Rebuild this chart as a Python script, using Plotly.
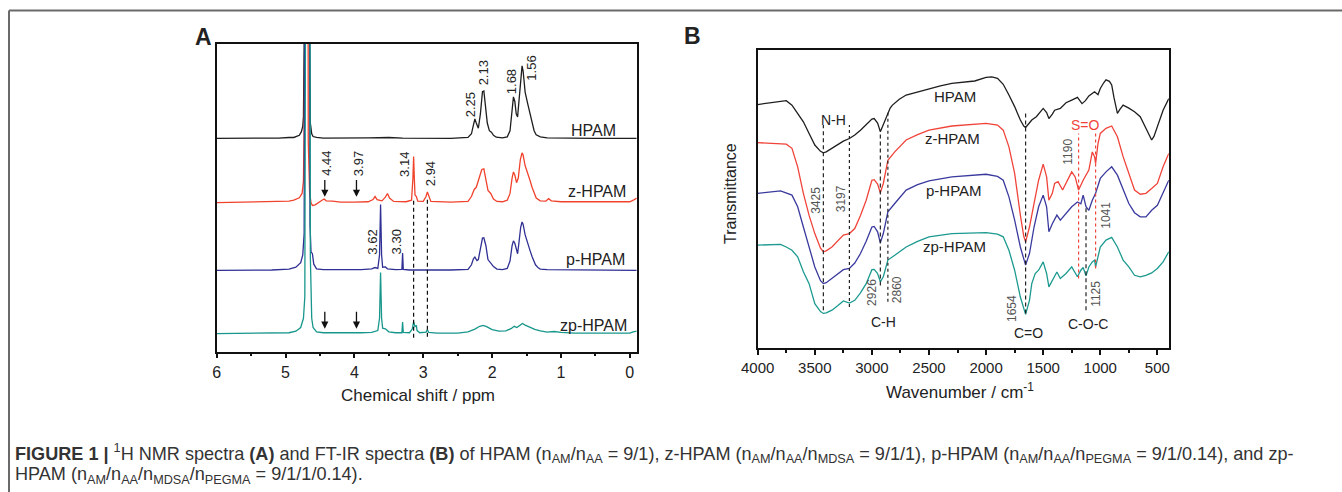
import plotly.graph_objects as go

# ---------------- panel A: 1H NMR (shift ppm, intensity above own baseline) ----------------
nmr_names = ["HPAM", "z-HPAM", "p-HPAM", "zp-HPAM"]
nmr_colors = ["#1e1e1e", "#f0432c", "#2f2f94", "#17968b"]
nmr_offsets = [69.3, 48.4, 26.4, 5.8]

hpam_nmr = [
    (6.0, 0), (5.5, 0), (5.1, 0.1), (4.95, 0.3), (4.88, 0.3), (4.80, 1.0), (4.77, 2.2), (4.75, 4),
    (4.74, 7), (4.73, 30), (4.72, 200), (4.66, 200), (4.65, 30), (4.64, 5), (4.62, 1.5), (4.60, 0.6),
    (4.55, 0.3), (4.45, 0.1), (3.8, 0.2), (3.6, 0.4), (3.5, 0.3), (3.3, 0.1), (2.6, 0), (2.35, 0.3),
    (2.30, 1.5), (2.27, 4.5), (2.25, 6.3), (2.23, 5), (2.20, 3.3), (2.17, 8), (2.14, 15.2), (2.12, 15.4),
    (2.10, 12), (2.07, 5), (2.04, 2.5), (2.01, 2), (1.98, 1), (1.94, 0.4), (1.85, 0.2), (1.78, 0.5),
    (1.74, 2.5), (1.71, 9), (1.69, 13.5), (1.67, 12), (1.65, 8), (1.63, 7), (1.61, 12), (1.585, 21),
    (1.565, 23.6), (1.55, 22), (1.52, 15), (1.48, 11), (1.45, 8), (1.42, 5), (1.39, 2.5), (1.36, 1.2),
    (1.30, 0.5), (1.20, 0.2), (1.0, 0.1), (0.5, 0), (-0.1, 0),
]
zhpam_nmr = [
    (6.0, 0), (5.2, 0.2), (4.95, 0.5), (4.88, 0.8), (4.80, 1.6), (4.76, 3), (4.74, 7), (4.73, 25),
    (4.715, 200), (4.68, 200), (4.67, 20), (4.65, 3), (4.63, 0), (4.61, -0.9), (4.57, -0.7), (4.52, 0.2),
    (4.47, 0.8), (4.44, 1.2), (4.41, 0.6), (4.32, 0.5), (4.2, 0.2), (4.0, 0.2), (3.8, 0.3), (3.73, 1),
    (3.70, 2), (3.67, 1), (3.60, 0.6), (3.55, 1.8), (3.52, 3), (3.49, 1.5), (3.43, 0.4), (3.25, 0.3),
    (3.17, 0.8), (3.15, 8), (3.14, 15), (3.13, 8), (3.12, 2.5), (3.10, 2), (3.08, 0.5), (3.0, 0.4),
    (2.96, 2), (2.94, 3.5), (2.92, 2), (2.89, 0.4), (2.6, 0.2), (2.35, 0.4), (2.30, 2), (2.26, 4.3),
    (2.23, 5), (2.19, 8), (2.15, 10.8), (2.12, 11), (2.09, 8), (2.06, 4), (2.02, 3), (1.98, 1.2),
    (1.93, 0.4), (1.85, 0.3), (1.78, 0.8), (1.74, 3), (1.71, 8), (1.69, 10), (1.67, 9), (1.645, 6.5),
    (1.62, 8), (1.59, 14), (1.565, 16.2), (1.55, 15.5), (1.52, 12), (1.48, 9.5), (1.45, 7.3), (1.42, 5),
    (1.39, 3), (1.36, 1.5), (1.30, 0.6), (1.22, 0.5), (1.18, 1.3), (1.14, 0.6), (1.0, 0.3), (0.5, 0.2),
    (0.0, 0.3), (-0.05, 0.8), (-0.1, 1.5),
]
phpam_nmr = [
    (6.0, 0), (5.2, 0.1), (4.95, 0.4), (4.85, 1.0), (4.78, 2.5), (4.75, 5), (4.73, 12), (4.71, 200),
    (4.66, 200), (4.645, 15), (4.63, 6), (4.61, 5.4), (4.59, 2), (4.55, 0.5), (4.45, 0.2), (4.2, 0.2),
    (4.15, 0.3), (3.9, 0.2), (3.75, 0.5), (3.70, 0.9), (3.66, 0.6), (3.635, 5), (3.62, 21.4),
    (3.605, 5), (3.59, 1), (3.55, 1.1), (3.52, 0.5), (3.4, 0.2), (3.31, 0.3), (3.30, 5.6), (3.29, 0.3),
    (3.2, 0.1), (2.6, 0.1), (2.35, 0.3), (2.30, 1.8), (2.27, 3.8), (2.25, 4.3), (2.22, 3.2), (2.20, 3.5),
    (2.16, 9), (2.14, 10.5), (2.12, 10.6), (2.09, 8), (2.06, 3.5), (2.02, 2.2), (1.98, 1.2), (1.93, 0.4),
    (1.85, 0.2), (1.78, 0.6), (1.74, 3), (1.71, 8), (1.69, 9.6), (1.67, 8.8), (1.645, 6), (1.63, 5.4),
    (1.61, 9), (1.585, 14), (1.565, 15.7), (1.55, 15), (1.52, 11.5), (1.48, 9), (1.45, 6.5), (1.42, 4.5),
    (1.40, 3.3), (1.37, 1.8), (1.33, 0.8), (1.30, 0.4), (1.20, 0.2), (0.5, 0.1), (-0.1, 0),
]
zphpam_nmr = [
    (6.0, 0), (5.2, 0.1), (4.95, 0.3), (4.85, 0.8), (4.78, 2), (4.74, 5), (4.72, 12), (4.70, 200),
    (4.65, 200), (4.64, 25), (4.62, 5), (4.60, 2), (4.55, 0.6), (4.45, 0.3), (4.2, 0.2), (3.9, 0.3),
    (3.75, 0.4), (3.70, 0.6), (3.66, 1), (3.635, 5), (3.62, 19.9), (3.605, 5), (3.59, 1.8), (3.55, 1.6),
    (3.50, 0.6), (3.4, 0.3), (3.31, 0.3), (3.30, 3.8), (3.29, 0.4), (3.2, 0.3), (3.16, 1.5), (3.14, 3.8),
    (3.12, 2.3), (3.10, 2.7), (3.09, 1), (3.05, 0.3), (2.96, 0.5), (2.94, 1.3), (2.92, 0.4), (2.8, 0.2),
    (2.5, 0.2), (2.35, 0.6), (2.25, 1.5), (2.18, 2.4), (2.13, 2.7), (2.08, 2.3), (2.0, 1.3), (1.9, 0.8),
    (1.8, 0.9), (1.72, 1.7), (1.68, 2.4), (1.64, 2.0), (1.60, 2.8), (1.56, 3.3), (1.52, 2.8), (1.45, 2.0),
    (1.38, 1.4), (1.30, 0.9), (1.20, 0.5), (1.10, 0.7), (1.0, 0.4), (0.8, 0.2), (0.0, 0.2), (-0.05, 0.6),
    (-0.1, 0.8),
]
nmr_spectra = [hpam_nmr, zhpam_nmr, phpam_nmr, zphpam_nmr]

# peak labels: (text, shift, level)
nmr_peak_labels = [
    ("2.25", 2.32, 80.1), ("2.13", 2.13, 90.5), ("1.68", 1.72, 87.7), ("1.56", 1.43, 92.1),
    ("4.44", 4.41, 61.1), ("3.97", 3.94, 61.1), ("3.14", 3.27, 60.9), ("2.94", 2.90, 57.7),
    ("3.62", 3.75, 35.6), ("3.30", 3.39, 35.6),
]
nmr_name_pos = [(0.17, 72.0), (0.03, 51.9), (0.035, 29.9), (0.015, 8.5)]
nmr_arrow_shifts = [4.43, 3.97]
nmr_arrow_spans = [(56.3, 50.3), (13.4, 7.4)]
nmr_guide_lines = [(3.14, 49.5, 4.5), (2.94, 50.0, 4.8)]

# ---------------- panel B: FT-IR (wavenumber, stacked transmittance a.u.) ----------------
ir_names = ["HPAM", "z-HPAM", "p-HPAM", "zp-HPAM"]
ir_colors = ["#1e1e1e", "#f0443a", "#3a3a9e", "#1c9a90"]

hpam_ir = [
    (4000, 81.7), (3900, 82.2), (3800, 82.6), (3750, 83), (3700, 81.5), (3650, 78.7), (3600, 75.9),
    (3550, 72), (3500, 68.1), (3450, 66), (3425, 65.5), (3400, 65.8), (3350, 67), (3300, 68.3),
    (3250, 69.4), (3197, 70.3), (3150, 71.5), (3100, 73.1), (3050, 75), (3000, 76.8), (2980, 77),
    (2950, 75.5), (2926, 72.6), (2910, 74), (2900, 75.4), (2880, 77), (2860, 78.7), (2840, 80.5),
    (2820, 81.5), (2760, 83.5), (2700, 84.9), (2600, 86), (2500, 87.1), (2400, 88), (2300, 88.8),
    (2200, 89.2), (2100, 89.6), (2000, 90.8), (1950, 91), (1900, 90.5), (1850, 88.5), (1800, 84.9),
    (1750, 81), (1700, 76.5), (1670, 74.5), (1654, 74), (1630, 75), (1600, 76.5), (1560, 77.6),
    (1530, 79), (1500, 80.4), (1470, 79), (1450, 77), (1420, 78.5), (1400, 79.8), (1350, 80.4),
    (1300, 82.3), (1250, 83.2), (1200, 84.1), (1160, 82), (1130, 83), (1100, 84.6), (1050, 86),
    (1020, 85), (1000, 87.1), (970, 89), (950, 90), (920, 89.5), (900, 88.3), (880, 84), (860, 80.5),
    (850, 78.7), (830, 80), (800, 81.5), (750, 80.5), (700, 79.3), (650, 77.6), (600, 73.7), (570, 71),
    (550, 69.8), (530, 71), (500, 74.2), (450, 79.8), (400, 83.7),
]
zhpam_ir = [
    (4000, 68.9), (3850, 68.6), (3750, 68.4), (3700, 67), (3650, 60.8), (3600, 51.9), (3550, 44.5),
    (3500, 38.4), (3450, 33.5), (3425, 32.3), (3400, 32.6), (3350, 33.9), (3300, 35.8), (3250, 37.9),
    (3197, 38.4), (3150, 40.1), (3100, 44.5), (3050, 49.6), (3000, 56.3), (2980, 56.5), (2950, 55),
    (2926, 52.1), (2900, 55.2), (2880, 59.5), (2860, 63), (2800, 65.8), (2700, 69.8), (2600, 71.6),
    (2500, 73.1), (2300, 74.5), (2100, 75.1), (2000, 75.4), (1900, 74.8), (1850, 73.1), (1800, 67.5),
    (1750, 58.6), (1700, 44.6), (1670, 37.5), (1654, 35.6), (1620, 40.6), (1580, 48.5), (1540, 56.3),
    (1500, 61.7), (1470, 57.4), (1450, 49.6), (1420, 51.9), (1400, 55.2), (1370, 55.8), (1330, 53),
    (1300, 55.2), (1250, 59.1), (1220, 57.4), (1190, 53), (1150, 56.3), (1100, 59.7), (1070, 65.8),
    (1050, 64.2), (1041, 61.9), (1020, 68.6), (1000, 72), (950, 73.7), (900, 74.5), (850, 70.9),
    (800, 64.2), (750, 58.6), (700, 53), (650, 51.6), (600, 51.9), (550, 53.5), (500, 55.2),
    (450, 60.8), (400, 65.3),
]
phpam_ir = [
    (4000, 51.9), (3900, 52.3), (3800, 52.7), (3700, 51.3), (3650, 47.4), (3600, 40.6), (3550, 33.5),
    (3500, 27.2), (3450, 22.6), (3425, 21.6), (3400, 21.9), (3350, 23.3), (3300, 24.8), (3250, 26.3),
    (3197, 26.7), (3150, 28.5), (3100, 31.7), (3050, 35.8), (3000, 40.6), (2980, 40.8), (2950, 39),
    (2926, 35.3), (2900, 38.4), (2880, 42.5), (2860, 45.7), (2800, 48.5), (2700, 53), (2600, 54.8),
    (2500, 56.1), (2300, 57.4), (2100, 58), (2000, 58.3), (1900, 57.6), (1850, 56.3), (1800, 50.7),
    (1750, 42.9), (1700, 33.9), (1670, 29.5), (1654, 27.8), (1620, 31.7), (1580, 40.6), (1540, 47.4),
    (1500, 51.3), (1470, 47.4), (1450, 39), (1420, 41.7), (1380, 44.6), (1350, 42.9), (1300, 45.1),
    (1250, 47.4), (1200, 49), (1170, 48.4), (1150, 51.3), (1125, 47.4), (1100, 46.2), (1070, 49.6),
    (1041, 51.9), (1000, 56.9), (950, 59.1), (900, 60.8), (850, 58), (800, 53), (750, 48.5),
    (700, 45.4), (650, 44), (600, 44), (550, 46.2), (500, 47.9), (450, 51.9), (400, 56.3),
]
zphpam_ir = [
    (4000, 34.5), (3900, 34.6), (3800, 34.8), (3750, 33.9), (3700, 32.8), (3650, 30.6), (3600, 25.6),
    (3550, 21.6), (3500, 14.9), (3450, 12.2), (3425, 11.6), (3400, 11.8), (3350, 12.7), (3300, 14.2),
    (3250, 15.8), (3197, 15.1), (3150, 16), (3100, 18.5), (3050, 21.6), (3000, 26.3), (2980, 26.4),
    (2950, 25), (2926, 22.2), (2900, 23.9), (2880, 27), (2860, 29.5), (2800, 31.1), (2700, 33.9),
    (2600, 35.8), (2500, 37.3), (2300, 38.4), (2100, 38.7), (2000, 38.7), (1900, 38.2), (1850, 37.3),
    (1800, 32.8), (1750, 26.1), (1700, 17.1), (1670, 12.8), (1654, 11.3), (1620, 16), (1600, 21.6),
    (1570, 25), (1540, 26.1), (1500, 28.9), (1470, 25), (1450, 20.5), (1420, 22.7), (1380, 25.5),
    (1350, 23.3), (1300, 25), (1250, 27.2), (1200, 23.9), (1170, 26.1), (1150, 27), (1125, 24.2),
    (1100, 27.2), (1070, 28.9), (1050, 29.5), (1041, 27.2), (1020, 30.6), (1000, 33.9), (950, 36.2),
    (900, 37.1), (850, 33.9), (800, 29.5), (750, 27.2), (700, 24.4), (650, 23.9), (600, 24.4),
    (550, 25.2), (500, 26.7), (450, 28.9), (400, 32.3),
]
ir_spectra = [hpam_ir, zhpam_ir, phpam_ir, zphpam_ir]

ir_name_pos = [(2268, 84.5), (2294, 70.3), (2280, 53.0), (2280, 34.2)]
# band guide lines: (wavenumber, top, bottom, colour, dash)
ir_guide_lines = [
    (3425, 74.8, 12.7, "#222222", "4px,3px"),
    (3197, 74.8, 13.8, "#222222", "dot"),
    (2926, 73.0, 21.0, "#222222", "4px,3px"),
    (2860, 79.3, 15.5, "#222222", "dot"),
    (1654, 78.7, 11.6, "#222222", "4px,3px"),
    (1190, 72.0, 23.3, "#f0443a", "dot"),
    (1041, 72.0, 26.7, "#f0443a", "dot"),
    (1125, 47.4, 12.7, "#222222", "4px,3px"),
]
ir_band_values = [
    ("3425", 3484, 49.6), ("3197", 3263, 50.2), ("2926", 3005, 18.6), ("2860", 2784, 19.6),
    ("1654", 1779, 13.2), ("1190", 1285, 65.8), ("1041", 953, 44.6), ("1125", 1034, 18.3),
]
ir_band_groups = [
    ("N-H", 3337, 76.5, "#222222"), ("C-H", 2895, 8.7, "#222222"), ("C=O", 1631, 5.2, "#222222"),
    ("C-O-C", 1108, 8.0, "#222222"), ("S=O", 1126, 74.8, "#f0443a"),
]

FONT = "Liberation Sans, Arial, Helvetica, sans-serif"
W, H = 1342, 492

fig = go.Figure()

for name, color, offset, spec in zip(nmr_names, nmr_colors, nmr_offsets, nmr_spectra):
    fig.add_trace(go.Scatter(
        x=[p[0] for p in spec], y=[p[1] + offset for p in spec],
        mode="lines", line=dict(color=color, width=1.3), name=name,
        showlegend=False, xaxis="x", yaxis="y",
    ))

for name, color, spec in zip(ir_names, ir_colors, ir_spectra):
    fig.add_trace(go.Scatter(
        x=[p[0] for p in spec], y=[p[1] for p in spec],
        mode="lines", line=dict(color=color, width=1.3), name=name,
        showlegend=False, xaxis="x2", yaxis="y2",
    ))

shapes = []
for shift, top, bottom in nmr_guide_lines:
    shapes.append(dict(type="line", xref="x", yref="y", x0=shift, x1=shift, y0=bottom, y1=top,
                       line=dict(color="#111111", width=1.2, dash="4px,3px")))
for wn, top, bottom, color, dash in ir_guide_lines:
    shapes.append(dict(type="line", xref="x2", yref="y2", x0=wn, x1=wn, y0=bottom, y1=top,
                       line=dict(color=color, width=1.2, dash=dash)))
# outer figure frame (top and left rules)
shapes.append(dict(type="line", xref="paper", yref="paper", x0=9 / W, x1=1, y0=1 - 10.5 / H,
                   y1=1 - 10.5 / H, line=dict(color="#6a6a6a", width=2)))
shapes.append(dict(type="line", xref="paper", yref="paper", x0=9 / W, x1=9 / W, y0=0,
                   y1=1 - 10.5 / H, line=dict(color="#6a6a6a", width=2)))

ann = []
for text, shift, level in nmr_peak_labels:
    ann.append(dict(x=shift, y=level, xref="x", yref="y", text=text, textangle=-90, showarrow=False,
                    font=dict(size=13, color="#222222")))
for name, (shift, level) in zip(nmr_names, nmr_name_pos):
    ann.append(dict(x=shift, y=level, xref="x", yref="y", text=name, showarrow=False, xanchor="right",
                    font=dict(size=16, color="#222222")))
for top, tip in nmr_arrow_spans:
    for shift in nmr_arrow_shifts:
        ann.append(dict(x=shift, y=tip, ax=shift, ay=top, xref="x", yref="y", axref="x", ayref="y",
                        text="", showarrow=True, arrowhead=2, arrowsize=1.1, arrowwidth=1.3,
                        arrowcolor="#111111", standoff=0))
for name, (wn, level) in zip(ir_names, ir_name_pos):
    ann.append(dict(x=wn, y=level, xref="x2", yref="y2", text=name, showarrow=False,
                    font=dict(size=15, color="#222222")))
for text, wn, level in ir_band_values:
    ann.append(dict(x=wn, y=level, xref="x2", yref="y2", text=text, textangle=-90, showarrow=False,
                    font=dict(size=12, color="#555555")))
for text, wn, level, color in ir_band_groups:
    ann.append(dict(x=wn, y=level, xref="x2", yref="y2", text=text, showarrow=False,
                    font=dict(size=14, color=color)))


def paper_text(text, px, py, size, angle=0, anchor="center"):
    return dict(x=px / W, y=1 - py / H, xref="paper", yref="paper", text=text, showarrow=False,
                xanchor=anchor, yanchor="middle", textangle=angle,
                font=dict(size=size, color="#222222"))


ann.append(paper_text("<b>A</b>", 203, 36.5, 23))
ann.append(paper_text("<b>B</b>", 692, 36, 23))
ann.append(paper_text("Chemical shift / ppm", 418, 395, 17))
ann.append(paper_text("Wavenumber / cm<sup>-1</sup>", 960, 391, 17))
ann.append(paper_text("Transmittance", 730, 194, 16, angle=-90))

caption_lines = [
    "<b>FIGURE 1 |</b> <sup>1</sup>H NMR spectra <b>(A)</b> and FT-IR spectra <b>(B)</b> of HPAM "
    "(n<sub>AM</sub>/n<sub>AA</sub> = 9/1), z-HPAM (n<sub>AM</sub>/n<sub>AA</sub>/n<sub>MDSA</sub> = 9/1/1), "
    "p-HPAM (n<sub>AM</sub>/n<sub>AA</sub>/n<sub>PEGMA</sub> = 9/1/0.14), and zp-",
    "HPAM (n<sub>AM</sub>/n<sub>AA</sub>/n<sub>MDSA</sub>/n<sub>PEGMA</sub> = 9/1/1/0.14).",
]
for line, py in zip(caption_lines, [453, 475]):
    cap = paper_text(line, 13, py, 18.1, anchor="left")
    cap["font"]["color"] = "#333333"
    ann.append(cap)

axis_common = dict(showline=True, linecolor="#111111", linewidth=1.8, mirror=True, showgrid=False,
                   zeroline=False, automargin=False)

fig.update_layout(
    width=W, height=H, margin=dict(l=0, r=0, t=0, b=0, pad=0, autoexpand=False),
    paper_bgcolor="white", plot_bgcolor="white",
    font=dict(family=FONT, color="#222222"),
    shapes=shapes, annotations=ann,
    xaxis=dict(domain=[216.7 / W, 636.7 / W], range=[6, -0.1], tickmode="linear", tick0=0,
               dtick=1, ticks="outside", ticklen=5, tickwidth=1.5, tickcolor="#111111",
               tickfont=dict(size=16), minor=dict(ticks="outside", ticklen=3, dtick=0.5, tick0=0,
                                                  tickcolor="#111111", tickwidth=1.5),
               anchor="y", **axis_common),
    yaxis=dict(domain=[1 - 351.5 / H, 1 - 44 / H], range=[0, 100], showticklabels=False,
               ticks="", anchor="x", **axis_common),
    xaxis2=dict(domain=[757.7 / W, 1168.8 / W], range=[4000, 400], tickmode="linear",
                tick0=0, dtick=500, ticks="outside", ticklen=5, tickwidth=1.5, tickcolor="#111111",
                tickfont=dict(size=15), minor=dict(ticks="outside", ticklen=3, dtick=250, tick0=0,
                                                   tickcolor="#111111", tickwidth=1.5),
                anchor="y2", **axis_common),
    yaxis2=dict(domain=[1 - 348 / H, 1 - 50 / H], range=[0, 100], showticklabels=False,
                ticks="", anchor="x2", **axis_common),
)

# page body margin would otherwise push the fixed-size figure off its pixel grid
fig.write_html("out.html", config={"displayModeBar": False},
               post_script="document.body.style.margin='0';"
                           "document.body.style.overflow='hidden';")
